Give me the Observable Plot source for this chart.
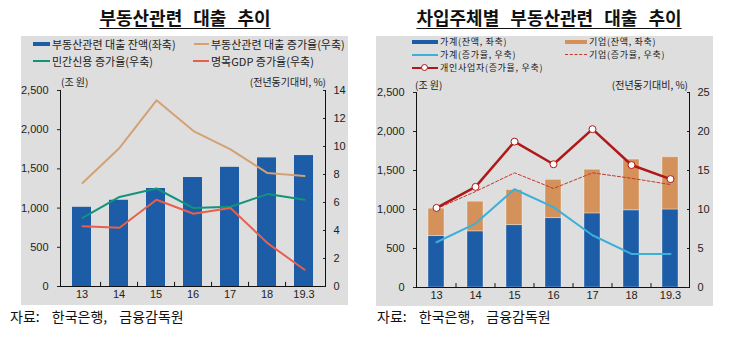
<!DOCTYPE html>
<html><head><meta charset="utf-8">
<script src="https://cdn.jsdelivr.net/npm/d3@7"></script>
<script src="https://cdn.jsdelivr.net/npm/@observablehq/plot@0.6"></script>
<style>
body{margin:0;width:729px;height:338px;background:#fff;position:relative;overflow:hidden;font-family:"Noto Sans CJK KR","Liberation Sans",sans-serif;color:#222}
.title{position:absolute;top:4px;font-size:18px;font-weight:bold;text-decoration:underline;text-underline-offset:3px;word-spacing:7px;white-space:nowrap;transform:translateX(-50%);color:#111}
.panel{position:absolute;background:#dedede}
.panel svg{position:absolute;left:0;top:0;overflow:visible}
.leg{position:absolute;font-size:11px;line-height:12px;height:12px;white-space:nowrap;display:flex;align-items:center;color:#222}
.legB{font-size:9px;letter-spacing:0.7px;line-height:10px;height:10px}
.sw{display:inline-block;margin-right:2px}
.unit{position:absolute;font-size:10px;white-space:nowrap;color:#222}
.src{position:absolute;top:306px;font-size:14px;word-spacing:9px;white-space:nowrap;color:#111}
</style></head>
<body>
<script>
// ---------- data ----------
const years = ["13","14","15","16","17","18","19.3"];
// left chart
const loanBalance   = [1010,1100,1250,1390,1520,1640,1670];   // 조 원 (left)
const loanGrowth    = [7.4,9.9,13.3,11.1,9.8,8.1,7.9];        // % (right)
const privateCredit = [4.9,6.4,7.0,5.6,5.7,6.6,6.2];          // % (right)
const nominalGdp    = [4.3,4.2,6.2,5.2,5.6,3.1,1.2];          // % (right)
const leftTicksA  = [0,500,1000,1500,2000,2500];
const rightTicksA = [0,2,4,6,8,10,12,14];
// right chart
const hhBalance     = [660,720,800,890,950,990,1000];
const corpBalance   = [350,380,450,490,560,650,670];
const hhGrowth      = [5.8,8.2,12.6,10.3,6.7,4.3,4.3];
const corpGrowth    = [10.1,12.3,14.7,12.7,14.7,14.0,13.2];
const selfEmpGrowth = [10.2,12.9,18.7,15.8,20.3,15.7,13.9];
const leftTicksB  = [0,500,1000,1500,2000,2500];
const rightTicksB = [0,5,10,15,20,25];

const C = {blue:"#1d5ca6", tan:"#d4a173", green:"#10947c", red:"#e8604c",
           orange:"#d4925a", sky:"#3cb0d8", dred:"#b01818", dash:"#c0392b"};
const fmt = d3.format(",");

function el(tag, cls, parent, style, html){
  const e=document.createElement(tag); if(cls) e.className=cls;
  Object.assign(e.style, style||{}); if(html!=null) e.innerHTML=html;
  (parent||document.body).appendChild(e); return e;
}
function legendItem(parent, x, y, swHTML, label, extra){
  const d = el("div","leg"+(extra?" "+extra:""),parent,{left:x+"px",top:(y-6)+"px"});
  d.innerHTML = swHTML + "<span>"+label+"</span>";
}
const lineSw = (c,w,h,dash) => `<span class="sw" style="width:${w}px;height:0;border-top:${h}px ${dash?"dashed":"solid"} ${c}"></span>`;

// ---------- left panel ----------
el("div","title",null,{left:"185px"},"부동산관련 대출 추이");
const PA = el("div","panel",null,{left:"21px",top:"36px",width:"327px",height:"269px"});
const A = {w:327,h:269,ml:39,mr:23,mt:54,mb:19};
const stepA = (A.w-A.ml-A.mr)/years.length;
const rowsA = years.map((y,i)=>({year:y, bal:loanBalance[i], g:loanGrowth[i], pc:privateCredit[i], gdp:nominalGdp[i]}));
const xA = {domain:years, paddingInner:0.5, paddingOuter:0.25, label:null};
const baseStyle = {background:"transparent", fontSize:"11px", fontFamily:"'Liberation Sans',Arial,sans-serif", color:"#222", overflow:"visible"};

const plotA1 = Plot.plot({
  width:A.w, height:A.h, marginLeft:A.ml, marginRight:A.mr, marginTop:A.mt, marginBottom:A.mb,
  style:baseStyle, x:xA, y:{domain:[0,2500], label:null},
  marks:[
    Plot.barY(rowsA,{x:"year", y:"bal", fill:C.blue}),
    Plot.axisY(leftTicksA,{anchor:"left", tickSize:3, tickPadding:9, tickFormat:fmt, label:null}),
    Plot.axisX({anchor:"bottom", tickSize:0, tickPadding:4, label:null}),
    Plot.frame({anchor:"left", stroke:"#111"}),
    Plot.frame({anchor:"bottom", stroke:"#111"})
  ]
});
PA.appendChild(plotA1);
const plotA2 = Plot.plot({
  width:A.w, height:A.h, marginLeft:A.ml, marginRight:A.mr, marginTop:A.mt, marginBottom:A.mb,
  style:baseStyle, x:{...xA, axis:null}, y:{domain:[0,14], label:null, axis:null},
  marks:[
    Plot.axisY(rightTicksA,{anchor:"right", tickSize:-3, tickPadding:11, label:null}),
    Plot.frame({anchor:"right", stroke:"#111"}),
    Plot.ruleX(years.slice(1),{x:d=>d, dx:-stepA/2, y1:0, y2:0.3, stroke:"#111"}),
    Plot.line(rowsA,{x:"year", y:"g", stroke:C.tan, strokeWidth:2}),
    Plot.line(rowsA,{x:"year", y:"pc", stroke:C.green, strokeWidth:2}),
    Plot.line(rowsA,{x:"year", y:"gdp", stroke:C.red, strokeWidth:2})
  ]
});
PA.appendChild(plotA2);
legendItem(PA, 12, 8, lineSw(C.blue,17,4), "부동산관련 대출 잔액(좌축)");
legendItem(PA, 173, 8, lineSw(C.tan,15,2), "부동산관련 대출 증가율(우축)");
legendItem(PA, 12, 25, lineSw(C.green,17,2), "민간신용 증가율(우축)");
legendItem(PA, 172, 25, lineSw(C.red,16,2), "명목GDP 증가율(우축)");
el("div","unit",PA,{left:"40px",top:"38px"},"(조 원)");
el("div","unit",PA,{right:"22px",top:"38px"},"(전년동기대비, %)");
el("div","src",null,{left:"10px"},"자료: 한국은행, 금융감독원");

// ---------- right panel ----------
el("div","title",null,{left:"549px"},"차입주체별 부동산관련 대출 추이");
const PB = el("div","panel",null,{left:"376px",top:"36px",width:"337px",height:"270px"});
const B = {w:337,h:270,ml:40,mr:24,mt:56,mb:19};
const stepB = (B.w-B.ml-B.mr)/years.length;
const rowsB = years.map((y,i)=>({year:y, hg:hhGrowth[i], cg:corpGrowth[i], sg:selfEmpGrowth[i]}));
const stackB = years.flatMap((y,i)=>[{year:y, kind:"가계", v:hhBalance[i]},{year:y, kind:"기업", v:corpBalance[i]}]);
const xB = {domain:years, paddingInner:0.59, paddingOuter:0.295, label:null};

const plotB1 = Plot.plot({
  width:B.w, height:B.h, marginLeft:B.ml, marginRight:B.mr, marginTop:B.mt, marginBottom:B.mb,
  style:baseStyle, x:xB, y:{domain:[0,2500], label:null},
  color:{domain:["가계","기업"], range:[C.blue, C.orange]},
  marks:[
    Plot.barY(stackB,{x:"year", y:"v", fill:"kind", stroke:"#fff", strokeOpacity:0.35, strokeWidth:1}),
    Plot.axisY(leftTicksB,{anchor:"left", tickSize:3, tickPadding:9, tickFormat:fmt, label:null}),
    Plot.axisX({anchor:"bottom", tickSize:0, tickPadding:4, label:null}),
    Plot.frame({anchor:"left", stroke:"#111"}),
    Plot.frame({anchor:"bottom", stroke:"#111"})
  ]
});
PB.appendChild(plotB1);
const plotB2 = Plot.plot({
  width:B.w, height:B.h, marginLeft:B.ml, marginRight:B.mr, marginTop:B.mt, marginBottom:B.mb,
  style:baseStyle, x:{...xB, axis:null}, y:{domain:[0,25], label:null, axis:null},
  marks:[
    Plot.axisY(rightTicksB,{anchor:"right", tickSize:-3, tickPadding:11, label:null}),
    Plot.frame({anchor:"right", stroke:"#111"}),
    Plot.ruleX(years.slice(1),{x:d=>d, dx:-stepB/2, y1:0, y2:0.5, stroke:"#111"}),
    Plot.line(rowsB,{x:"year", y:"hg", stroke:C.sky, strokeWidth:2}),
    Plot.line(rowsB,{x:"year", y:"cg", stroke:C.dash, strokeWidth:1, strokeDasharray:"3,2"}),
    Plot.line(rowsB,{x:"year", y:"sg", stroke:C.dred, strokeWidth:2.5}),
    Plot.dot(rowsB,{x:"year", y:"sg", r:3.5, fill:"#fff", stroke:C.dred, strokeWidth:1})
  ]
});
PB.appendChild(plotB2);
legendItem(PB, 36, 6.5, lineSw(C.blue,26,4), "가계(잔액, 좌축)", "legB");
legendItem(PB, 189, 6.5, lineSw(C.orange,22,4), "기업(잔액, 좌축)", "legB");
legendItem(PB, 36, 19.5, lineSw(C.sky,26,2), "가계(증가율, 우축)", "legB");
legendItem(PB, 189, 19.5, lineSw(C.dash,22,1,true), "기업(증가율, 우축)", "legB");
legendItem(PB, 36, 32.5, `<span class="sw" style="position:relative;width:26px;height:0;border-top:2px solid ${C.dred}"><span style="position:absolute;left:9px;top:-5px;width:5px;height:5px;border-radius:50%;background:#fff;border:1px solid ${C.dred}"></span></span>`, "개인사업자(증가율, 우축)", "legB");
el("div","unit",PB,{left:"39px",top:"41px"},"(조 원)");
el("div","unit",PB,{right:"25px",top:"41px"},"(전년동기대비, %)");
el("div","src",null,{left:"377px"},"자료: 한국은행, 금융감독원");
</script>
</body></html>
